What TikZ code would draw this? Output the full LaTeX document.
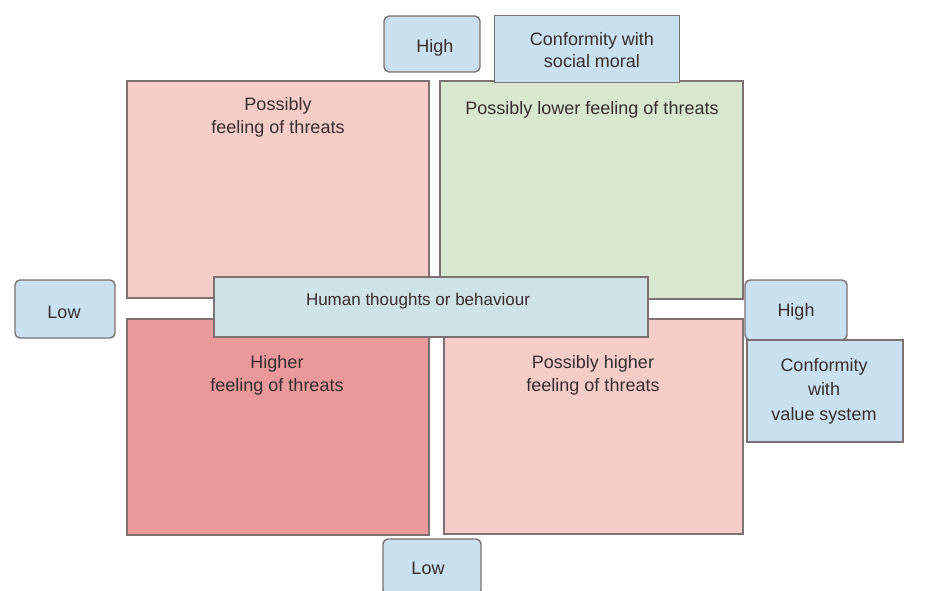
\documentclass[tikz,border=0pt]{standalone}
\usepackage{fontspec}
\setmainfont{Liberation Sans}
\definecolor{pinkA}{RGB}{246,204,201}
\definecolor{pinkB}{RGB}{234,152,153}
\definecolor{greenA}{RGB}{216,232,208}
\definecolor{barblue}{RGB}{206,226,232}
\definecolor{lblblue}{RGB}{200,224,240}
\definecolor{edgegray}{RGB}{125,112,112}
\definecolor{txt}{RGB}{55,45,45}
\tikzset{
  quad/.style={draw=edgegray, line width=1.6pt, inner sep=0pt, anchor=north west},
  qtext/.style={font=\fontsize{18}{23}\selectfont, align=center, text=txt, inner sep=0pt},
  lbl/.style={draw=edgegray, line width=1.4pt, fill=lblblue, rounded corners=5pt, inner sep=0pt},
  sqlbl/.style={draw=edgegray, line width=1.6pt, fill=lblblue, inner sep=0pt},
}
\begin{document}
\begin{tikzpicture}[x=1pt,y=-1pt]
\useasboundingbox[fill=white] (0,0) rectangle (939,591);
% quadrants
\node[quad, fill=pinkA, minimum width=302pt, minimum height=217pt] (tl) at (126,80) {};
\node[quad, fill=greenA, minimum width=303pt, minimum height=218pt] (tr) at (439,80) {};
\node[quad, fill=pinkB, minimum width=302pt, minimum height=216pt] (bl) at (126,318) {};
\node[quad, fill=pinkA, minimum width=299pt, minimum height=215pt] (br) at (443,318) {};
% quadrant texts
\node[qtext] (tlt) at (278,117) {Possibly\\feeling of threats};
\node[qtext] (trt) at (592,110) {Possibly lower feeling of threats};
\node[qtext] (blt) at (277,375) {Higher\\feeling of threats};
\node[qtext] (brt) at (593,375) {Possibly higher\\feeling of threats};
% center bar
\node[draw=edgegray, line width=1.6pt, fill=barblue, minimum width=434pt, minimum height=60pt, inner sep=0pt] (bar) at (431,307) {};
\node[qtext, font=\fontsize{17}{22}\selectfont] (bart) at (418,301) {Human thoughts or behaviour};
% axis labels
\node[lbl, minimum width=96pt, minimum height=56pt] (hightop) at (432,44) {};
\node[qtext] (hightopt) at (435,48) {High};
\node[sqlbl, minimum width=185pt, minimum height=67pt] (social) at (587,49) {};
\node[qtext, font=\fontsize{18}{22}\selectfont] (socialt) at (592,50) {Conformity with\\social moral};
\node[lbl, minimum width=100pt, minimum height=58pt] (lowleft) at (65,309) {};
\node[qtext] (lowleftt) at (64,312) {Low};
\node[lbl, minimum width=102pt, minimum height=60pt] (highright) at (796,310) {};
\node[qtext] (highrightt) at (796,312) {High};
\node[sqlbl, minimum width=156pt, minimum height=102pt] (value) at (825,391) {};
\node[qtext, font=\fontsize{18}{24.5}\selectfont] (valuet) at (824,391) {Conformity\\with\\value system};
\node[lbl, minimum width=98pt, minimum height=56pt] (lowbottom) at (432,567) {};
\node[qtext] (lowbottomt) at (428,568) {Low};
\end{tikzpicture}
\end{document}
